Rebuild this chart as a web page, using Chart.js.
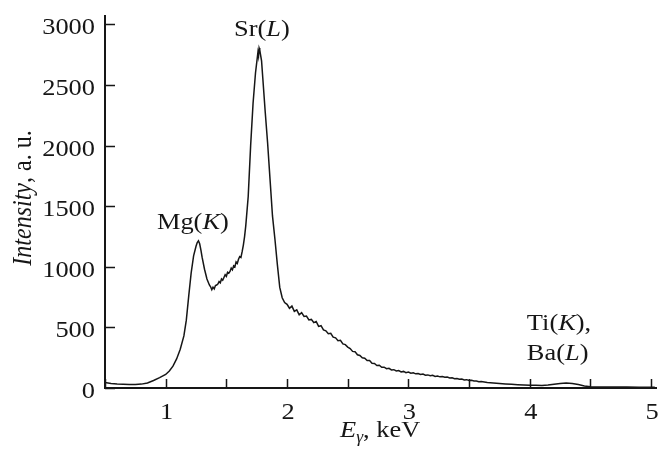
<!DOCTYPE html>
<html>
<head>
<meta charset="utf-8">
<script src="https://cdn.jsdelivr.net/npm/chart.js@4.4.1/dist/chart.umd.min.js"></script>
<style>
  html, body { margin: 0; padding: 0; background: #fff; }
  #wrap { width: 658px; height: 456px; position: relative; }
</style>
</head>
<body>
<div id="wrap"><canvas id="spectrum"></canvas></div>
<script>
'use strict';

// ── Spectrum data (keV / counts) ─────────────────────────────────
const energy = [
  0.50, 0.55, 0.60, 0.65, 0.70, 0.75, 0.80, 0.85, 0.90, 0.95,
  1.00, 1.03, 1.06, 1.09, 1.12, 1.15, 1.17, 1.19, 1.21, 1.23,
  1.25, 1.26, 1.27, 1.28, 1.29, 1.30, 1.32, 1.34, 1.36, 1.37,
  1.38, 1.39, 1.40, 1.41, 1.42, 1.43, 1.44, 1.45, 1.46, 1.47,
  1.48, 1.49, 1.50, 1.51, 1.52, 1.53, 1.54, 1.55, 1.56, 1.57,
  1.58, 1.59, 1.60, 1.61, 1.62, 1.63, 1.64, 1.65, 1.66, 1.68,
  1.70, 1.72, 1.74, 1.76, 1.765, 1.77, 1.775, 1.78, 1.79, 1.80,
  1.82, 1.84, 1.86, 1.88, 1.90, 1.92, 1.94, 1.96, 1.98, 2.00,
  2.02, 2.04, 2.06, 2.08, 2.10, 2.12, 2.14, 2.16, 2.18, 2.20,
  2.22, 2.24, 2.26, 2.28, 2.30, 2.32, 2.34, 2.36, 2.38, 2.40,
  2.42, 2.44, 2.46, 2.48, 2.50, 2.52, 2.54, 2.56, 2.58, 2.60,
  2.62, 2.64, 2.66, 2.68, 2.70, 2.72, 2.74, 2.76, 2.78, 2.80,
  2.82, 2.84, 2.86, 2.88, 2.90, 2.92, 2.94, 2.96, 2.98, 3.00,
  3.02, 3.04, 3.06, 3.08, 3.10, 3.12, 3.14, 3.16, 3.18, 3.20,
  3.22, 3.24, 3.26, 3.28, 3.30, 3.32, 3.34, 3.36, 3.38, 3.40,
  3.42, 3.44, 3.46, 3.48, 3.50, 3.52, 3.54, 3.56, 3.58, 3.60,
  3.65, 3.70, 3.75, 3.80, 3.85, 3.90, 3.95, 4.00, 4.05, 4.10,
  4.15, 4.20, 4.25, 4.30, 4.35, 4.40, 4.45, 4.50, 4.55, 4.60,
  4.70, 4.80, 4.90, 5.00, 5.03
];

const counts = [
  45, 38, 33, 30, 28, 29, 32, 42, 62, 85,
  112, 140, 180, 240, 320, 430, 560, 760, 950, 1090,
  1170, 1200, 1215, 1190, 1140, 1080, 980, 900, 850, 835,
  812, 832, 818, 846, 850, 858, 878, 868, 900, 890,
  912, 935, 922, 955, 948, 962, 990, 975, 1008, 1000,
  1040, 1028, 1062, 1085, 1078, 1125, 1180, 1250, 1340, 1580,
  2000, 2350, 2600, 2770, 2740, 2805, 2790, 2760, 2700, 2560,
  2280, 2020, 1720, 1420, 1230, 1020, 830, 745, 705, 690,
  658, 676, 632, 645, 604, 622, 590, 594, 562, 566,
  540, 549, 508, 514, 480, 472, 448, 452, 420, 414,
  390, 393, 364, 358, 338, 326, 302, 300, 274, 268,
  249, 245, 226, 226, 204, 202, 186, 188, 171, 172,
  159, 162, 149, 151, 141, 144, 133, 137, 127, 131,
  122, 125, 117, 119, 111, 115, 106, 108, 101, 105,
  96, 99, 92, 94, 88, 90, 83, 85, 77, 79,
  72, 74, 67, 69, 62, 63, 57, 58, 52, 53,
  46, 42, 37, 33, 30, 27, 25, 23, 22, 21,
  24, 30, 37, 41, 38, 28, 17, 11, 9, 9,
  8, 8, 7, 7, 7
];

// ── Axis range and ticks ─────────────────────────────────────────
const X_MIN = 0.5, X_MAX = 5.04;
const Y_MIN = 0, Y_MAX = 3070;
const xTicks = [0.5, 1, 1.5, 2, 2.5, 3, 3.5, 4, 4.5, 5];
const xTickLabels = ['', '1', '', '2', '', '3', '', '4', '', '5'];
const yTicks = [0, 500, 1000, 1500, 2000, 2500, 3000];
const yTickLabels = ['0', '500', '1000', '1500', '2000', '2500', '3000'];

// Peak annotations, anchored in data units (keV, counts)
const peakLabels = [
  { x: 1.793, y: 2905, align: 'center', parts: [['Sr(', false], ['L', true], [')', false]] },
  { x: 1.224, y: 1314, align: 'center', parts: [['Mg(', false], ['K', true], [')', false]] },
  { x: 3.976, y: 481,  align: 'left',   parts: [['Ti(', false], ['K', true], ['),', false]] },
  { x: 3.976, y: 234,  align: 'left',   parts: [['Ba(', false], ['L', true], [')', false]] },
];

const FONT = "'Liberation Serif', 'Times New Roman', serif";
const INK = '#161616';
const SIZE = 24;
const STRETCH = 1.1;   // the lettering is a little wide

function fontOf(size, italic) {
  return `${italic ? 'italic ' : ''}${size}px ${FONT}`;
}

// draws a run of [text, italic, size?, dy?] segments, anchored at (x, y)
function drawRuns(ctx, parts, x, y, align, rotate) {
  ctx.save();
  ctx.translate(x, y);
  ctx.scale(STRETCH, 1);
  if (rotate) ctx.rotate(-Math.PI / 2);
  let total = 0;
  parts.forEach(([t, it, sz]) => { ctx.font = fontOf(sz || SIZE, it); total += ctx.measureText(t).width; });
  let cx = align === 'center' ? -total / 2 : align === 'right' ? -total : 0;
  ctx.textAlign = 'left';
  parts.forEach(([t, it, sz, dy]) => {
    ctx.font = fontOf(sz || SIZE, it);
    ctx.fillText(t, cx, dy || 0);
    cx += ctx.measureText(t).width;
  });
  ctx.restore();
}

// ── Inward tick marks, labels and axis titles ───────────────────
const decorPlugin = {
  id: 'decor',
  afterDraw(chart) {
    const { ctx, chartArea: a, scales: { x, y } } = chart;
    ctx.save();
    ctx.strokeStyle = INK;
    ctx.lineWidth = 1.5;
    ctx.beginPath();
    xTicks.forEach(v => {
      const px = Math.round(x.getPixelForValue(v)) + 0.5;
      ctx.moveTo(px, a.bottom);
      ctx.lineTo(px, a.bottom - 9);
    });
    yTicks.forEach(v => {
      const py = Math.round(y.getPixelForValue(v)) + 0.5;
      ctx.moveTo(a.left, py);
      ctx.lineTo(a.left + 10, py);
    });
    ctx.stroke();

    ctx.fillStyle = INK;
    ctx.textBaseline = 'alphabetic';

    xTicks.forEach((v, i) => {
      if (xTickLabels[i]) drawRuns(ctx, [[xTickLabels[i], false]], x.getPixelForValue(v) + 1, a.bottom + 31, 'center');
    });
    yTicks.forEach((v, i) => {
      drawRuns(ctx, [[yTickLabels[i], false]], a.left - 10, y.getPixelForValue(v) + 10, 'right');
    });

    peakLabels.forEach(l => {
      drawRuns(ctx, l.parts, x.getPixelForValue(l.x), y.getPixelForValue(l.y), l.align);
    });

    // x title: E_γ, keV
    drawRuns(ctx, [['E', true], ['γ', true, 16, 5], [', keV', false]], 340, 437, 'left');

    // y title: Intensity, a. u.
    drawRuns(ctx, [['Intensity', true], [', a. u.', false]], 31, (a.top + a.bottom) / 2 - 4, 'center', true);
    ctx.restore();
  },
};

new Chart(document.getElementById('spectrum'), {
  type: 'scatter',
  data: {
    datasets: [{
      data: energy.map((e, i) => ({ x: e, y: counts[i] })),
      showLine: true,
      borderColor: INK,
      borderWidth: 1.5,
      pointRadius: 0,
      tension: 0,
    }],
  },
  options: {
    responsive: true,
    maintainAspectRatio: false,
    animation: false,
    layout: { padding: { left: 0, top: 16, right: 2, bottom: 0 } },
    plugins: { legend: { display: false }, tooltip: { enabled: false } },
    scales: {
      x: {
        type: 'linear',
        min: X_MIN, max: X_MAX,
        grid: { display: false, drawTicks: false },
        border: { display: true, color: INK, width: 2 },
        ticks: { display: false },
        afterFit: s => { s.height = 68; },
      },
      y: {
        type: 'linear',
        min: Y_MIN, max: Y_MAX,
        grid: { display: false, drawTicks: false },
        border: { display: true, color: INK, width: 2 },
        ticks: { display: false },
        afterFit: s => { s.width = 105; },
      },
    },
  },
  plugins: [decorPlugin],
});
</script>
</body>
</html>
